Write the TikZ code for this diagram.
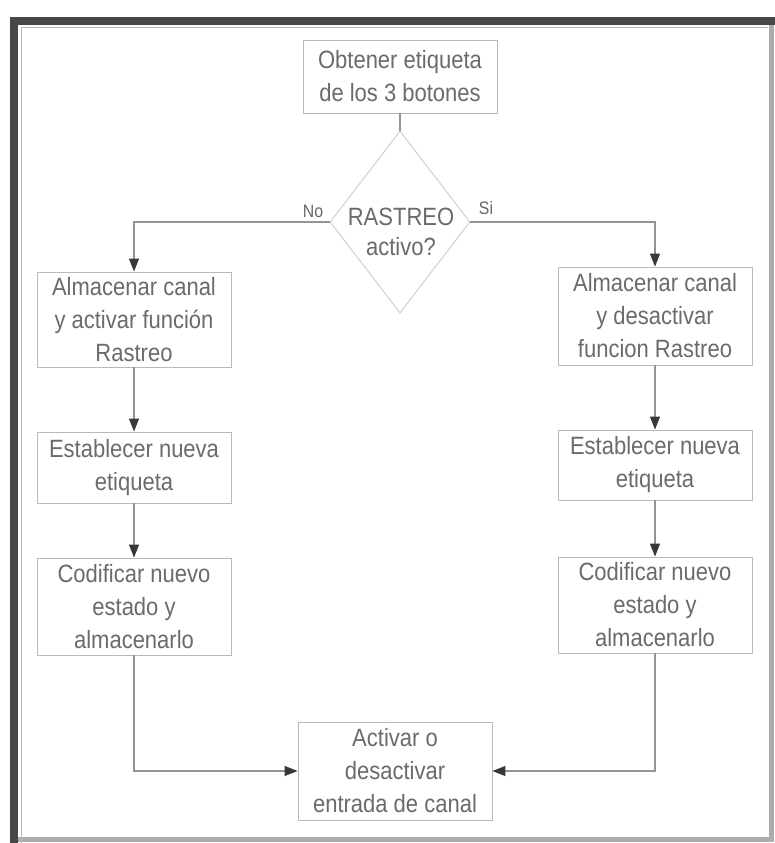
\documentclass[tikz,border=0pt]{standalone}
\usepackage{fontspec}
\setmainfont[FakeStretch=0.88]{Liberation Sans}
\usetikzlibrary{arrows.meta,shapes.geometric}
\begin{document}
\begin{tikzpicture}[x=1pt,y=-1pt,
  stepbox/.style={draw=gray!55, line width=0.9pt, minimum width=194pt,
    inner sep=0pt, align=center, text=black!58,
    font=\fontsize{25}{33}\selectfont},
  conn/.style={draw=gray!85, line width=1.1pt},
  arr/.style={conn, -{Triangle[length=13pt,width=10pt,color=black!78]}},
  tag/.style={text=black!60, inner sep=1pt, font=\fontsize{18}{20}\selectfont}
]
\useasboundingbox (0,0) rectangle (775,843);
\fill[white] (0,0) rectangle (775,843);

% page frame: heavy top/left rule, lighter right/bottom rule
\draw[black!72, line width=8pt] (775,21) -- (14,21) -- (14,843);
\draw[gray!65, line width=5pt] (771,25) -- (771,839) -- (18,839);
\draw[gray!55, line width=1pt] (21,843) -- (21,28) -- (768,28);

% process steps
\node[stepbox, minimum height=73pt] (start) at (400,76.5) {Obtener etiqueta\\de los 3 botones};
\node[diamond, draw=gray!40, line width=0.9pt, minimum width=140pt,
      minimum height=182pt, inner sep=0pt] (dec) at (400,222) {};
\node[align=center, text=black!58, inner sep=0pt,
      font=\fontsize{25}{30}\selectfont] (dectxt) at (401,232) {RASTREO\\activo?};

\node[stepbox, minimum height=95pt] (l1) at (134,319.5) {Almacenar canal\\y activar función\\Rastreo};
\node[stepbox, minimum height=71pt] (l2) at (134,467.5) {Establecer nueva\\etiqueta};
\node[stepbox, minimum height=97pt] (l3) at (134,606.5) {Codificar nuevo\\estado y\\almacenarlo};

\node[stepbox, minimum height=98pt] (r1) at (655,316) {Almacenar canal\\y desactivar\\funcion Rastreo};
\node[stepbox, minimum height=70pt] (r2) at (655,465) {Establecer nueva\\etiqueta};
\node[stepbox, minimum height=96pt] (r3) at (655,605) {Codificar nuevo\\estado y\\almacenarlo};

\node[stepbox, minimum height=98pt] (end) at (395,771) {Activar o\\desactivar\\entrada de canal};

% branch labels
\node[tag] (no) at (313,211) {No};
\node[tag] (si) at (486,208) {Si};

% connectors
\draw[conn] (start.south) -- (dec.north);
\draw[arr] (dec.west) -| (l1.north);
\draw[arr] (dec.east) -| (r1.north);
\draw[arr] (l1) -- (l2);
\draw[arr] (l2) -- (l3);
\draw[arr] (r1) -- (r2);
\draw[arr] (r2) -- (r3);
\draw[arr] (l3.south) |- (end.west);
\draw[arr] (r3.south) |- (end.east);
\end{tikzpicture}
\end{document}
